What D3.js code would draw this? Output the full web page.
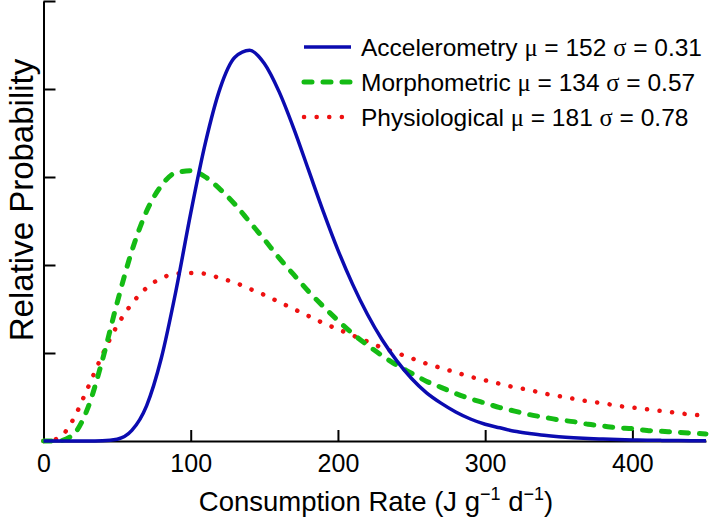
<!DOCTYPE html>
<html><head><meta charset="utf-8">
<script src="https://cdn.jsdelivr.net/npm/d3@7"></script>
<style>
html,body{margin:0;padding:0;background:#fff;}
svg{display:block;}
text{font-family:"Liberation Sans",Arial,sans-serif;fill:#000;}
</style></head>
<body>
<svg id="chart" width="709" height="525"></svg>
<script>
// ---- data ----
const xValues = [0,10,20,30,40,50,60,70,80,90,100,110,120,130,140,150,160,170,180,190,200,210,220,230,240,250,260,270,280,290,300,310,320,330,340,350,360,370,380,390,400,410,420,430,440,450];
const accelerometry = [0,0,0,0,0.002,0.02,0.12,0.40,0.94,1.71,2.59,3.39,4.01,4.36,4.44,4.29,3.97,3.55,3.08,2.61,2.17,1.78,1.44,1.15,0.91,0.71,0.55,0.43,0.33,0.25,0.19,0.15,0.11,0.086,0.065,0.049,0.037,0.028,0.022,0.016,0.012,0.009,0.007,0.005,0.004,0.003];
const morphometric = [0,0.001,0.07,0.37,0.92,1.57,2.16,2.61,2.90,3.05,3.07,3.00,2.86,2.69,2.49,2.29,2.08,1.89,1.70,1.53,1.37,1.22,1.09,0.97,0.86,0.77,0.68,0.61,0.54,0.48,0.43,0.38,0.34,0.30,0.27,0.24,0.22,0.19,0.17,0.15,0.14,0.12,0.11,0.10,0.09,0.08];
const physiological = [0,0.03,0.24,0.60,0.98,1.31,1.56,1.74,1.85,1.90,1.91,1.90,1.85,1.80,1.73,1.66,1.58,1.50,1.42,1.34,1.27,1.20,1.13,1.06,1.00,0.94,0.88,0.83,0.78,0.73,0.69,0.65,0.61,0.58,0.54,0.51,0.48,0.45,0.43,0.40,0.38,0.36,0.34,0.32,0.30,0.29];
const xTicks = [0,100,200,300,400];
const yTicks = [1,2,3,4,5];
const seriesNames = ["Accelerometry","Morphometric","Physiological"];
const seriesMu = ["152","134","181"];
const seriesSigma = ["0.31","0.57","0.78"];
const xLabel = "Consumption Rate (J g";
const yLabel = "Relative Probability";

// ---- layout ----
const svg = d3.select("#chart");
const x = d3.scaleLinear().domain([0,450]).range([43.5,706]);
const y = d3.scaleLinear().domain([0,5]).range([441,1]);

// axes
const gx = svg.append("g").attr("transform","translate(0,441)")
  .call(d3.axisBottom(x).tickValues(xTicks).tickSizeInner(-11).tickSizeOuter(0).tickPadding(13));
gx.select(".domain").attr("stroke","#000").attr("stroke-width",2);
gx.selectAll(".tick line").attr("stroke","#000").attr("stroke-width",2);
gx.selectAll(".tick text").attr("font-size",25).attr("font-family","Liberation Sans, Arial, sans-serif").attr("fill","#000");

const gy = svg.append("g").attr("transform","translate(43.5,0)")
  .call(d3.axisLeft(y).tickValues(yTicks).tickSizeInner(-12).tickSizeOuter(0).tickFormat(""));
gy.select(".domain").attr("stroke","#000").attr("stroke-width",2);
gy.selectAll(".tick line").attr("stroke","#000").attr("stroke-width",2);

// axis titles
const xt = svg.append("text").attr("x",376).attr("y",511).attr("text-anchor","middle").attr("font-size",27.5);
xt.append("tspan").text(xLabel);
xt.append("tspan").attr("font-size",18).attr("dy",-11).text("\u22121");
xt.append("tspan").attr("font-size",27.5).attr("dy",11).text(" d");
xt.append("tspan").attr("font-size",18).attr("dy",-11).text("\u22121");
xt.append("tspan").attr("font-size",27.5).attr("dy",11).text(")");

svg.append("text").attr("transform","translate(33,200) rotate(-90)")
  .attr("text-anchor","middle").attr("font-size",33).text(yLabel);

// curves
const line = d3.line().x((d,i)=>x(xValues[i])).y(d=>y(d)).curve(d3.curveMonotoneX);
const styles = [
  {data:accelerometry, color:"#0b0bb0", width:3.5, dash:null, cap:"butt"},
  {data:morphometric, color:"#14bb14", width:5, dash:"8 11", cap:"round"},
  {data:physiological, color:"#ee1111", width:4.5, dash:"0.1 12.5", cap:"round"}
];
const plot = svg.append("g");
[2,1,0].forEach(i=>{
  const s = styles[i];
  plot.append("path").attr("d",line(s.data)).attr("fill","none")
    .attr("stroke",s.color).attr("stroke-width",s.width)
    .attr("stroke-dasharray",s.dash).attr("stroke-linecap",s.cap).attr("stroke-linejoin","round");
});

// legend
const legY = [47,82,117];
seriesNames.forEach((name,i)=>{
  const s = styles[i];
  svg.append("line").attr("x1",304).attr("x2",351).attr("y1",legY[i]).attr("y2",legY[i])
    .attr("stroke",s.color).attr("stroke-width",s.width)
    .attr("stroke-dasharray",s.dash).attr("stroke-linecap",s.cap);
  const t = svg.append("text").attr("x",361).attr("y",legY[i]+9).attr("font-size",24.5);
  t.append("tspan").text(name+" ");
  t.append("tspan").attr("font-family","Liberation Serif, Times New Roman, serif").text("\u03bc");
  t.append("tspan").text(" = "+seriesMu[i]+" ");
  t.append("tspan").attr("font-family","Liberation Serif, Times New Roman, serif").text("\u03c3");
  t.append("tspan").text(" = "+seriesSigma[i]);
});
</script>
</body></html>
